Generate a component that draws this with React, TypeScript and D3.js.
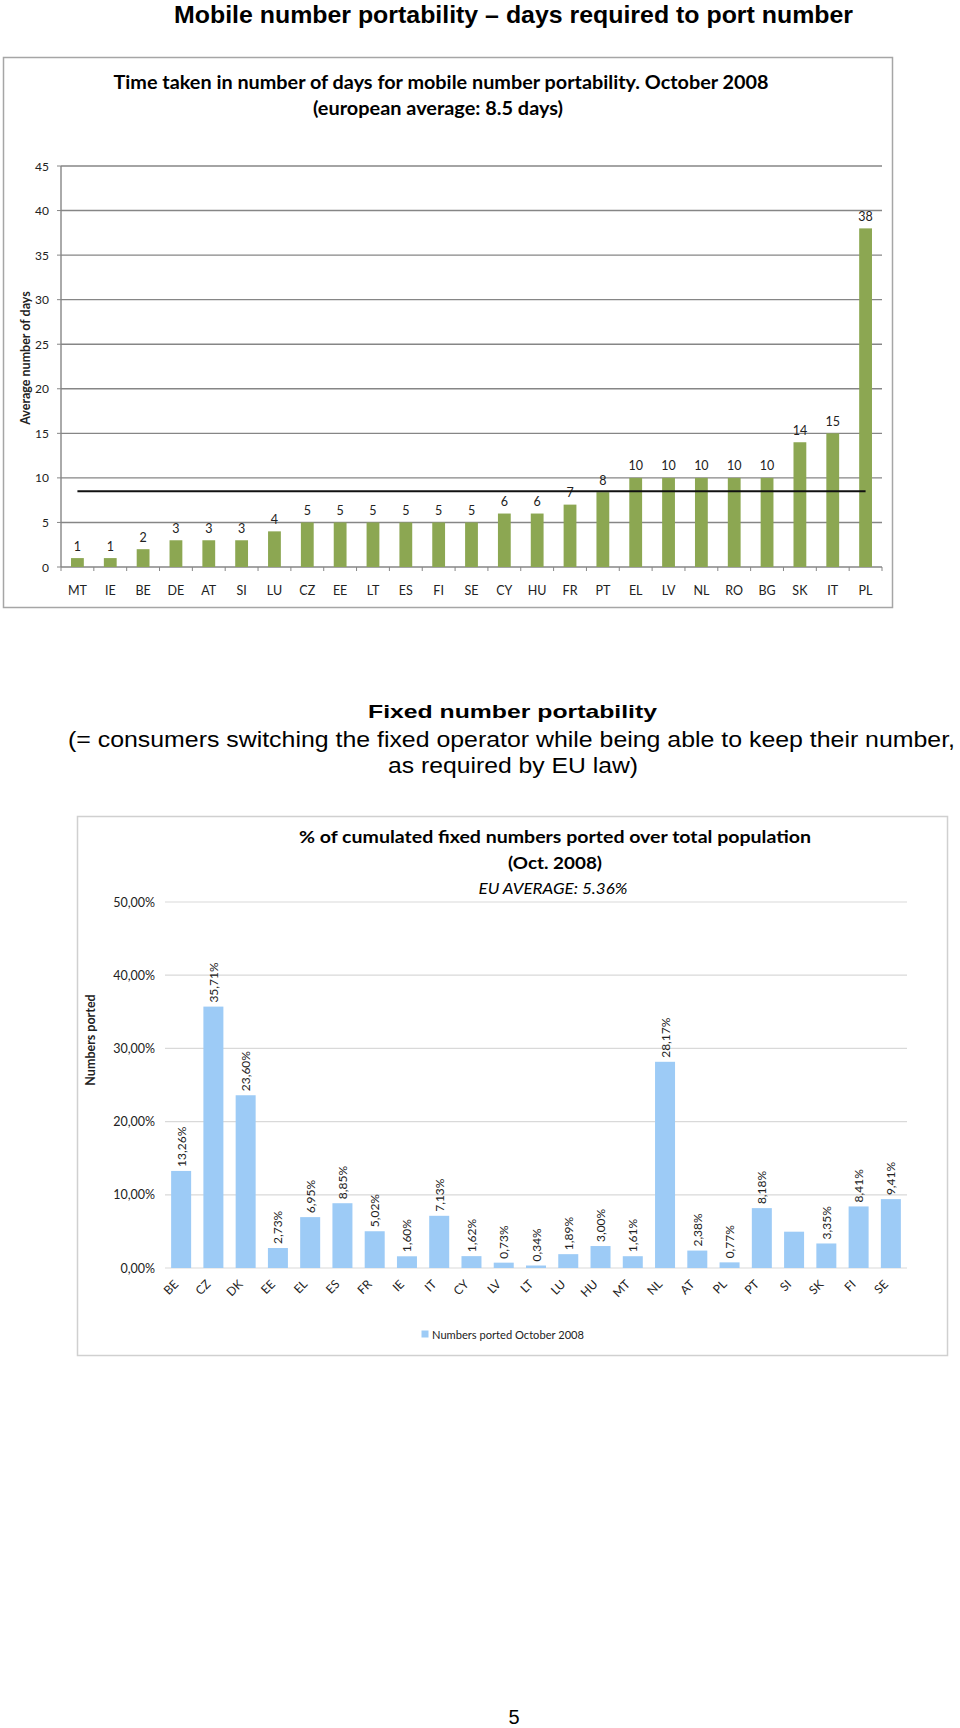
import React from "react";
import * as d3 from "d3";

// ---------- Chart 1: days required to port mobile number ----------
const daysCountries = ["MT", "IE", "BE", "DE", "AT", "SI", "LU", "CZ", "EE", "LT", "ES", "FI", "SE", "CY", "HU", "FR", "PT", "EL", "LV", "NL", "RO", "BG", "SK", "IT", "PL"];
const daysValues = [1, 1, 2, 3, 3, 3, 4, 5, 5, 5, 5, 5, 5, 6, 6, 7, 8.4, 10, 10, 10, 10, 10, 14, 15, 38];
const daysTicks = [0, 5, 10, 15, 20, 25, 30, 35, 40, 45];
const euAverageDays = 8.5;

// ---------- Chart 2: fixed numbers ported ----------
const portCountries = ["BE", "CZ", "DK", "EE", "EL", "ES", "FR", "IE", "IT", "CY", "LV", "LT", "LU", "HU", "MT", "NL", "AT", "PL", "PT", "SI", "SK", "FI", "SE"];
const portValues = [13.26, 35.71, 23.6, 2.73, 6.95, 8.85, 5.02, 1.6, 7.13, 1.62, 0.73, 0.34, 1.89, 3.0, 1.61, 28.17, 2.38, 0.77, 8.18, 4.96, 3.35, 8.41, 9.41];
const portUnlabelled = ["SI"];
const portTicks = [0, 10, 20, 30, 40, 50];

const CAL = "Lato, 'Open Sans', sans-serif";
const ARIAL = "'Liberation Sans', Arial, sans-serif";
const NARROW = "'Liberation Sans Narrow', 'Arial Narrow', 'Liberation Sans', Arial, sans-serif";

export default function App() {
  // chart 1 scales
  const x1 = d3.scaleBand<string>().domain(daysCountries).range([61, 882]).paddingInner(0.61).paddingOuter(0.305);
  const y1 = d3.scaleLinear().domain([0, 45]).range([567, 166]);
  const step1 = x1.step();
  const avgLine = d3
    .line<string>()
    .x((c) => (x1(c) as number) + x1.bandwidth() / 2)
    .y(() => y1(euAverageDays));
  const fmtDays = d3.format(".0f");

  // chart 2 scales
  const x2 = d3.scaleBand<string>().domain(portCountries).range([165, 907]).paddingInner(0.38).paddingOuter(0.19);
  const y2 = d3.scaleLinear().domain([0, 50]).range([1268, 902]);
  const fmtPct = (v: number) => d3.format(".2f")(v).replace(".", ",") + "%";

  return (
    <svg width={960} height={1728} style={{ position: "absolute", left: 0, top: 0, background: "#fff" }}>
      <rect x={0} y={0} width={960} height={1728} fill="#fff" />

      {/* page title */}
      <text x={513.5} y={23} textAnchor="middle" fontFamily={NARROW} fontWeight="bold" fontSize={24} textLength={679} lengthAdjust="spacingAndGlyphs" fill="#000">
        Mobile number portability – days required to port number
      </text>

      {/* ---------------- chart 1 ---------------- */}
      <rect x={3.5} y={57.5} width={889} height={550} fill="#fff" stroke="#a6a6a6" strokeWidth={1.5} />
      <text x={441} y={89} textAnchor="middle" fontFamily={CAL} fontWeight="bold" fontSize={18} textLength={655} lengthAdjust="spacingAndGlyphs" fill="#000">
        Time taken in number of days for mobile number portability. October 2008
      </text>
      <text x={438} y={115} textAnchor="middle" fontFamily={CAL} fontWeight="bold" fontSize={18} textLength={250} lengthAdjust="spacingAndGlyphs" fill="#000">
        (european average: 8.5 days)
      </text>

      {/* gridlines + y ticks */}
      {daysTicks.map((t) => (
        <g key={"g1" + t}>
          <line x1={61} x2={882} y1={y1(t)} y2={y1(t)} stroke="#868686" strokeWidth={1.4} />
          <line x1={57} x2={61} y1={y1(t)} y2={y1(t)} stroke="#868686" strokeWidth={1} />
          <text x={49} y={y1(t) + 4.5} textAnchor="end" fontFamily={CAL} fontSize={12} fill="#222">
            {t}
          </text>
        </g>
      ))}
      <line x1={61} x2={61} y1={y1(45)} y2={y1(0)} stroke="#868686" strokeWidth={1.4} />
      {/* category tick marks */}
      {d3.range(daysCountries.length + 1).map((i) => (
        <line key={"ct" + i} x1={61 + i * step1} x2={61 + i * step1} y1={y1(0)} y2={y1(0) + 4} stroke="#868686" strokeWidth={1} />
      ))}
      <text transform={`translate(30,358) rotate(-90)`} textAnchor="middle" fontFamily={CAL} fontWeight="bold" fontSize={12.5} fill="#222">
        Average number of days
      </text>

      {/* bars */}
      {daysCountries.map((c, i) => (
        <g key={"b1" + c}>
          <rect x={x1(c)} y={y1(daysValues[i])} width={x1.bandwidth()} height={y1(0) - y1(daysValues[i])} fill="#8ca752" />
          <text x={(x1(c) as number) + x1.bandwidth() / 2} y={y1(daysValues[i]) - 7.5} textAnchor="middle" fontFamily={CAL} fontSize={12.5} fill="#222">
            {fmtDays(daysValues[i])}
          </text>
          <text x={(x1(c) as number) + x1.bandwidth() / 2} y={594.5} textAnchor="middle" fontFamily={CAL} fontSize={12.5} fill="#222">
            {c}
          </text>
        </g>
      ))}
      {/* european average line */}
      <path d={avgLine(daysCountries) as string} stroke="#111" strokeWidth={2} fill="none" />

      {/* ---------------- section heading ---------------- */}
      <text x={512.5} y={718} textAnchor="middle" fontFamily={ARIAL} fontWeight="bold" fontSize={19} textLength={289} lengthAdjust="spacingAndGlyphs" fill="#000">
        Fixed number portability
      </text>
      <text x={511.5} y={747} textAnchor="middle" fontFamily={ARIAL} fontSize={22} textLength={887} lengthAdjust="spacingAndGlyphs" fill="#000">
        (= consumers switching the fixed operator while being able to keep their number,
      </text>
      <text x={513} y={773} textAnchor="middle" fontFamily={ARIAL} fontSize={22} textLength={250} lengthAdjust="spacingAndGlyphs" fill="#000">
        as required by EU law)
      </text>

      {/* ---------------- chart 2 ---------------- */}
      <rect x={77.5} y={816.5} width={870} height={539} fill="#fff" stroke="#d0d0d0" strokeWidth={1.5} />
      <text x={555} y={843} textAnchor="middle" fontFamily={CAL} fontWeight="bold" fontSize={17.5} textLength={512} lengthAdjust="spacingAndGlyphs" fill="#000">
        % of cumulated fixed numbers ported over total population
      </text>
      <text x={555} y={869} textAnchor="middle" fontFamily={CAL} fontWeight="bold" fontSize={17.5} textLength={94} lengthAdjust="spacingAndGlyphs" fill="#000">
        (Oct. 2008)
      </text>
      <text x={553} y={894} textAnchor="middle" fontFamily={CAL} fontStyle="italic" fontSize={15.5} textLength={149} lengthAdjust="spacingAndGlyphs" fill="#000">
        EU AVERAGE: 5.36%
      </text>

      {portTicks.map((t) => (
        <g key={"g2" + t}>
          <line x1={165} x2={907} y1={y2(t)} y2={y2(t)} stroke="#d9d9d9" strokeWidth={1.2} />
          <text x={155} y={y2(t) + 4.5} textAnchor="end" fontFamily={CAL} fontSize={12.5} fill="#222">
            {d3.format(".2f")(t).replace(".", ",") + "%"}
          </text>
        </g>
      ))}
      <text transform={`translate(95,1040) rotate(-90)`} textAnchor="middle" fontFamily={CAL} fontWeight="bold" fontSize={12.5} fill="#222">
        Numbers ported
      </text>

      {portCountries.map((c, i) => {
        const cx = (x2(c) as number) + x2.bandwidth() / 2;
        const yt = y2(portValues[i]);
        return (
          <g key={"b2" + c}>
            <rect x={x2(c)} y={yt} width={x2.bandwidth()} height={y2(0) - yt} fill="#9dcbf6" />
            {portUnlabelled.includes(c) ? null : (
              <text transform={`translate(${cx + 4.5},${yt - 4}) rotate(-90)`} textAnchor="start" fontFamily={CAL} fontSize={12} fill="#222">
                {fmtPct(portValues[i])}
              </text>
            )}
            <text transform={`translate(${cx - 2},${1285}) rotate(-45)`} textAnchor="end" fontFamily={CAL} fontSize={12} fill="#222">
              {c}
            </text>
          </g>
        );
      })}

      {/* legend */}
      <rect x={421.5} y={1330.5} width={7} height={7} fill="#9dcbf6" />
      <text x={432} y={1338.5} fontFamily={CAL} fontSize={12} textLength={152} lengthAdjust="spacingAndGlyphs" fill="#222">
        Numbers ported October 2008
      </text>

      {/* page number */}
      <text x={514} y={1724} textAnchor="middle" fontFamily={ARIAL} fontSize={20} fill="#000">
        5
      </text>
    </svg>
  );
}
